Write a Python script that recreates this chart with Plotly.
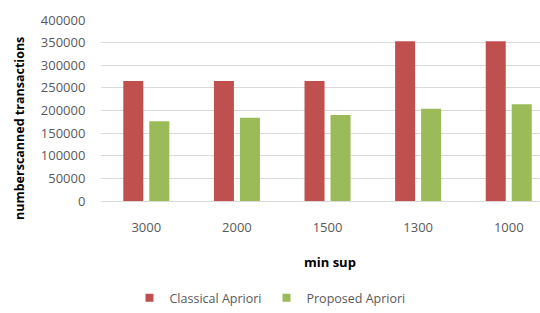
import plotly.graph_objects as go

categories = ["3000", "2000", "1500", "1300", "1000"]
classical = [265000, 265000, 265000, 353000, 353000]
proposed = [176000, 184000, 190000, 204000, 214000]
y_ticks = [0, 50000, 100000, 150000, 200000, 250000, 300000, 350000, 400000]
series_names = ["Classical Apriori", "Proposed Apriori"]
series_colors = ["#C0504D", "#9BBB59"]

FONT = "Open Sans"
fig = go.Figure()
for name, vals, col in zip(series_names, [classical, proposed], series_colors):
    fig.add_trace(go.Bar(x=categories, y=vals, name=name, showlegend=False,
                         legendgroup=name,
                         marker=dict(color=col, line=dict(width=0))))
# legend entries with small square swatches
for name, col in zip(series_names, series_colors):
    fig.add_trace(go.Scatter(x=[None], y=[None], mode="markers", name=name,
                             legendgroup=name,
                             marker=dict(symbol="square", size=8, color=col)))

plot_l, plot_w = 101, 540 - 101
plot_t, plot_h = 20, 313 - 20 - 112

fig.update_layout(
    width=540, height=313,
    margin=dict(l=101, r=0, t=20, b=112),
    paper_bgcolor="white", plot_bgcolor="white",
    barmode="group", bargap=0.426, bargroupgap=0.23,
    font=dict(family=FONT, color="#595959", size=13),
    showlegend=True,
    legend=dict(orientation="h", x=(270 - plot_l) / plot_w, xanchor="center",
                y=(plot_t + plot_h - 298) / plot_h, yanchor="middle",
                font=dict(size=12.5, color="#595959"),
                itemwidth=30, tracegroupgap=0),
    xaxis=dict(range=[-0.5, 4.345], showgrid=False, showline=True,
               linecolor="#D9D9D9", linewidth=1,
               ticks="outside", ticklen=14, tickcolor="rgba(0,0,0,0)",
               tickfont=dict(size=13, color="#595959")),
    yaxis=dict(range=[0, 400000], tickvals=y_ticks,
               ticktext=[str(v) for v in y_ticks],
               showgrid=True, gridcolor="#D9D9D9", gridwidth=1,
               zeroline=False, showline=False,
               ticks="outside", ticklen=12, tickcolor="rgba(0,0,0,0)",
               tickfont=dict(size=13, color="#595959")),
    annotations=[
        dict(text="<b>numberscanned transactions</b>", textangle=-90,
             x=19, y=129, showarrow=False,
             font=dict(size=12.5, color="#000000", family=FONT)),
        dict(text="<b>min sup</b>", x=330, y=262, showarrow=False,
             font=dict(size=13, color="#000000", family=FONT)),
    ],
)

# convert pixel positions of annotations into paper coords
for ann in fig.layout.annotations:
    ann.x = (ann.x - plot_l) / plot_w
    ann.y = (plot_t + plot_h - ann.y) / plot_h
    ann.xref = "paper"
    ann.yref = "paper"
    ann.xanchor = "center"
    ann.yanchor = "middle"

fig.write_html("out.html", config={"displayModeBar": False},
               post_script="document.body.style.margin='0';document.body.style.overflow='hidden';")
